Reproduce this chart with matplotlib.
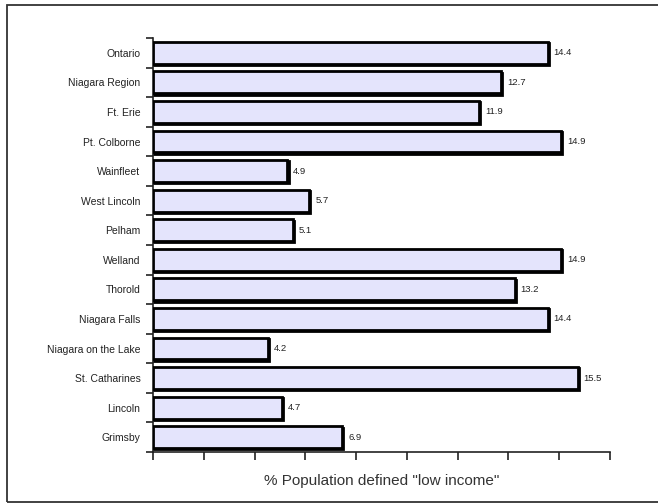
import matplotlib
matplotlib.use("Agg")
import matplotlib.pyplot as plt
import matplotlib.transforms as mtransforms
from matplotlib.patches import Rectangle
import numpy as np

plt.rcParams['font.family'] = ['Liberation Sans', 'DejaVu Sans']

categories = ["Ontario", "Niagara Region", "Ft. Erie", "Pt. Colborne", "Wainfleet",
              "West Lincoln", "Pelham", "Welland", "Thorold", "Niagara Falls",
              "Niagara on the Lake", "St. Catharines", "Lincoln", "Grimsby"]
values = [14.4, 12.7, 11.9, 14.9, 4.9, 5.7, 5.1, 14.9, 13.2, 14.4, 4.2, 15.5, 4.7, 6.9]
value_labels = ["14.4", "12.7", "11.9", "14.9", "4.9", "5.7", "5.1", "14.9", "13.2",
                "14.4", "4.2", "15.5", "4.7", "6.9"]
x_max = 16.68
x_label = '% Population defined "low income"'

fig = plt.figure(figsize=(6.58, 5.04), dpi=100)
ax = fig.add_axes([153/658, 1 - 452/504, (610 - 153)/658, (452 - 38)/504])

n = len(categories)
y = np.arange(n)

shadow_tr = ax.transData + mtransforms.ScaledTranslation(0.9/72, -0.9/72, fig.dpi_scale_trans)
ax.barh(y, values, height=0.74, color='black', edgecolor='black', linewidth=2.0,
        transform=shadow_tr, zorder=2)
ax.barh(y, values, height=0.74, color='#E4E4FC', edgecolor='black', linewidth=2.0, zorder=3)

for yi, v, lab in zip(y, values, value_labels):
    ax.text(v + 0.22, yi, lab, va='center', ha='left', fontsize=6.8, color='#222222', zorder=4)

ax.set_xlim(0, x_max)
ax.set_ylim(n - 0.5, -0.5)
ax.set_xticks(np.linspace(0, x_max, 10))
ax.set_xticklabels([])
ax.tick_params(axis='x', direction='out', length=6, width=1.2, color='#222222')

ax.set_yticks(np.arange(n + 1) - 0.5, minor=False)
ax.set_yticklabels([])
ax.tick_params(axis='y', which='major', direction='out', length=5, width=1.2, color='#222222')
ax.set_yticks(y, minor=True)
ax.set_yticklabels(categories, minor=True, fontsize=7.5, color='#222222')
ax.tick_params(axis='y', which='minor', length=0, pad=9)

for s in ['top', 'right']:
    ax.spines[s].set_visible(False)
ax.spines['left'].set_linewidth(1.2)
ax.spines['bottom'].set_linewidth(1.2)
ax.spines['left'].set_color('#222222')
ax.spines['bottom'].set_color('#222222')

ax.set_xlabel(x_label, fontsize=11, color='#333333', labelpad=6)

frame = Rectangle((7/658, 1 - 502/504), 1.0, (502 - 5)/504, transform=fig.transFigure,
                  fill=False, edgecolor='#333333', linewidth=1.3, clip_on=False)
fig.patches.append(frame)

fig.savefig("out.png", dpi=100, facecolor='white')
